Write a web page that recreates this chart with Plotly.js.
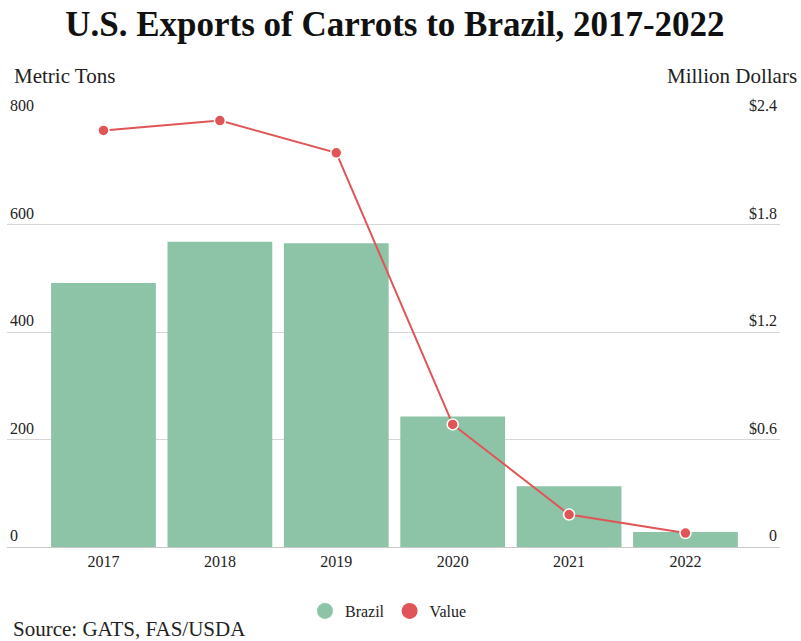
<!DOCTYPE html>
<html>
<head>
<meta charset="utf-8">
<script src="https://cdn.plot.ly/plotly-3.0.1.min.js"></script>
<style>html,body{margin:0;padding:0;background:#fff;}#chart{width:801px;height:641px;}</style>
</head>
<body>
<div id="chart"></div>
<script>
const years = ['2017', '2018', '2019', '2020', '2021', '2022'];
const volumeTons = [491, 568, 565, 243, 113, 28];
const valueMillion = [2.325, 2.38, 2.20, 0.684, 0.181, 0.078];
const leftTicks = [0, 200, 400, 600, 800];
const leftTickText = ['0', '200', '400', '600', '800'];
const rightTicks = [0, 0.6, 1.2, 1.8, 2.4];
const rightTickText = ['0', '$0.6', '$1.2', '$1.8', '$2.4'];

const barColor = '#8dc3a7';
const lineColor = '#e05557';
const serif = 'Liberation Serif';

const traces = [
  {
    type: 'bar', x: years, y: volumeTons, name: 'Brazil',
    marker: {color: barColor}, showlegend: false, hoverinfo: 'x+y'
  },
  {
    type: 'scatter', mode: 'lines+markers', x: years, y: valueMillion, name: 'Value',
    yaxis: 'y2', line: {color: lineColor, width: 2},
    marker: {color: lineColor, size: 11, line: {color: '#fff', width: 1.5}},
    showlegend: false, cliponaxis: false
  },
  {
    type: 'scatter', mode: 'markers', x: [null], y: [null], name: 'Brazil',
    marker: {color: barColor, size: 18, symbol: 'circle'}, showlegend: true
  },
  {
    type: 'scatter', mode: 'markers', x: [null], y: [null], name: 'Value',
    marker: {color: lineColor, size: 18, symbol: 'circle'}, showlegend: true
  }
];

const layout = {
  width: 801, height: 641,
  margin: {l: 7, r: 21, t: 117, b: 94, pad: 0},
  paper_bgcolor: '#fff', plot_bgcolor: '#fff',
  font: {family: serif, color: '#222', size: 16},
  title: {
    text: '<b>U.S. Exports of Carrots to Brazil, 2017-2022</b>',
    x: 0.493, xanchor: 'center', y: 1 - 24 / 641, yanchor: 'middle', yref: 'container',
    font: {family: serif, size: 35, color: '#111'}
  },
  bargap: 0.1,
  xaxis: {
    type: 'category', range: [-0.829, 5.812],
    showgrid: false, zeroline: false, showline: true, linecolor: '#c8c8c8', linewidth: 1,
    ticks: '', tickfont: {family: serif, size: 16, color: '#222'}, fixedrange: true
  },
  yaxis: {
    range: [0, 800], tickvals: leftTicks, ticktext: leftTickText,
    showgrid: true, gridcolor: '#d6d6d6', gridwidth: 1, zeroline: false, showline: false,
    ticks: '', ticklabelposition: 'inside top', ticklabeloverflow: 'allow',
    tickfont: {family: serif, size: 16, color: '#222'}
  },
  yaxis2: {
    overlaying: 'y', side: 'right', range: [0, 2.4],
    tickvals: rightTicks, ticktext: rightTickText,
    showgrid: false, zeroline: false, showline: false,
    ticks: '', ticklabelposition: 'inside top', ticklabeloverflow: 'allow',
    tickfont: {family: serif, size: 16, color: '#222'}
  },
  legend: {
    orientation: 'h', x: 0.4935, xanchor: 'center', y: (547 - 611) / 430, yanchor: 'middle',
    font: {family: serif, size: 16, color: '#222'}, itemsizing: 'trace'
  },
  annotations: [
    {text: 'Metric Tons', xref: 'paper', yref: 'paper', x: (12 - 7) / 773, y: (547 - 76) / 430,
     xanchor: 'left', yanchor: 'middle', showarrow: false, font: {family: serif, size: 21, color: '#222'}},
    {text: 'Million Dollars', xref: 'paper', yref: 'paper', x: (799 - 7) / 773, y: (547 - 76) / 430,
     xanchor: 'right', yanchor: 'middle', showarrow: false, font: {family: serif, size: 21, color: '#222'}},
    {text: 'Source: GATS, FAS/USDA', xref: 'paper', yref: 'paper', x: (11 - 7) / 773, y: (547 - 629) / 430,
     xanchor: 'left', yanchor: 'middle', showarrow: false, font: {family: serif, size: 21, color: '#222'}}
  ]
};

Plotly.newPlot('chart', traces, layout, {displayModeBar: false, staticPlot: true});
</script>
</body>
</html>
